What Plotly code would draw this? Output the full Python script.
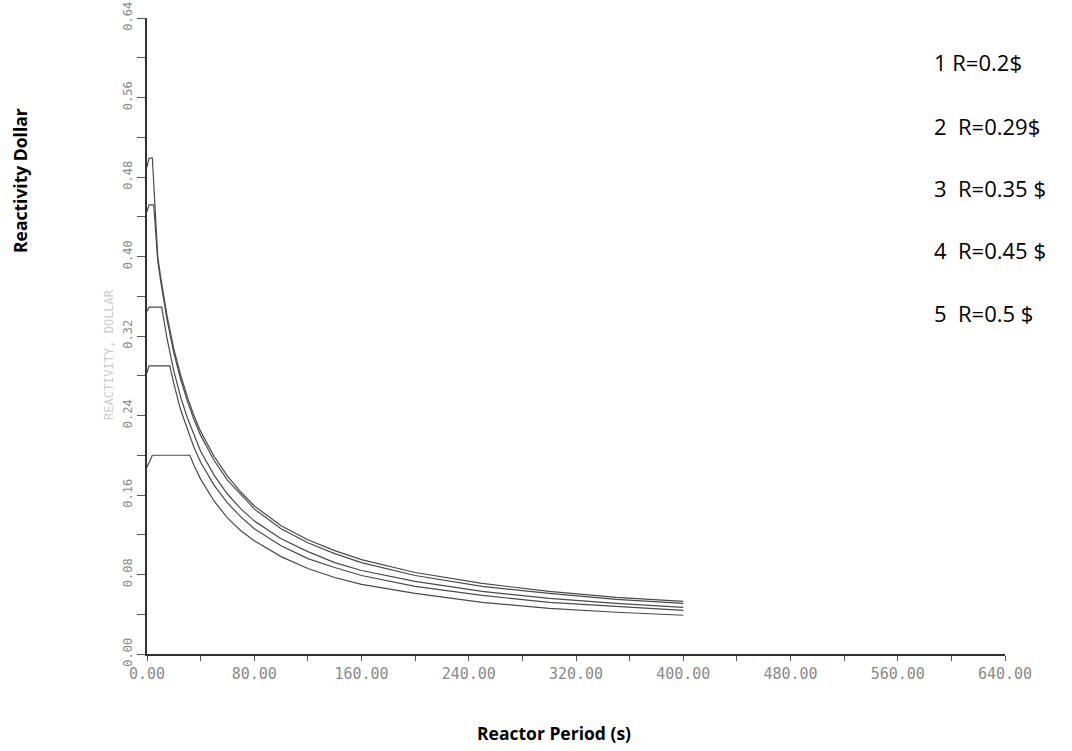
import plotly.graph_objects as go

# ---- data ----
labels = ["1 R=0.2$", "2  R=0.29$", "3  R=0.35 $", "4  R=0.45 $", "5  R=0.5 $"]

t1 = [0, 4, 32, 35, 40, 50, 60, 70, 80, 100, 120, 140, 160, 200, 250, 300, 350, 400]
r1 = [0.188, 0.200, 0.200, 0.190, 0.176, 0.154, 0.137, 0.124, 0.114, 0.098, 0.086, 0.077, 0.070, 0.061, 0.052, 0.046, 0.042, 0.039]

t2 = [0, 1.5, 17, 20, 25, 30, 35, 40, 50, 60, 70, 80, 100, 120, 140, 160, 200, 250, 300, 350, 400]
r2 = [0.283, 0.290, 0.290, 0.272, 0.246, 0.226, 0.208, 0.193, 0.170, 0.152, 0.138, 0.126, 0.109, 0.096, 0.087, 0.079, 0.068, 0.059, 0.052, 0.048, 0.044]

t3 = [0, 1.5, 11, 12, 15, 20, 25, 30, 35, 40, 50, 60, 70, 80, 100, 120, 140, 160, 200, 250, 300, 350, 400]
r3 = [0.345, 0.349, 0.349, 0.340, 0.317, 0.285, 0.259, 0.238, 0.220, 0.204, 0.180, 0.161, 0.146, 0.134, 0.116, 0.103, 0.092, 0.084, 0.073, 0.063, 0.056, 0.051, 0.047]

t4 = [0, 1.5, 5, 8, 10, 12, 15, 20, 25, 30, 35, 40, 50, 60, 70, 80, 100, 120, 140, 160, 200, 250, 300, 350, 400]
r4 = [0.445, 0.452, 0.452, 0.396, 0.377, 0.359, 0.336, 0.303, 0.277, 0.255, 0.236, 0.220, 0.195, 0.175, 0.160, 0.146, 0.126, 0.112, 0.101, 0.092, 0.079, 0.068, 0.061, 0.055, 0.051]

t5 = [0, 1.5, 4, 4.5, 6, 8, 10, 12, 15, 20, 25, 30, 35, 40, 50, 60, 70, 80, 100, 120, 140, 160, 200, 250, 300, 350, 400]
r5 = [0.490, 0.499, 0.499, 0.487, 0.452, 0.400, 0.381, 0.363, 0.340, 0.307, 0.281, 0.259, 0.240, 0.224, 0.199, 0.179, 0.163, 0.149, 0.129, 0.115, 0.104, 0.095, 0.082, 0.071, 0.063, 0.057, 0.053]

x_ticks = [0, 80, 160, 240, 320, 400, 480, 560, 640]
x_ticktext = ["0.00", "80.00", "160.00", "240.00", "320.00", "400.00", "480.00", "560.00", "640.00"]
y_ticks = [0.00, 0.08, 0.16, 0.24, 0.32, 0.40, 0.48, 0.56, 0.64]
y_ticktext = ["0.00", "0.08", "0.16", "0.24", "0.32", "0.40", "0.48", "0.56", "0.64"]

# ---- layout geometry (pixels) ----
W, H = 1072, 751
L, R, T, B = 147, 67, 18, 97
PW, PH = W - L - R, H - T - B


def px(xp):
    return (xp - L) / PW


def py(yp):
    return 1 - (yp - T) / PH


fig = go.Figure()
series = [(t1, r1), (t2, r2), (t3, r3), (t4, r4), (t5, r5)]
for (tx, ry), name in zip(series, labels):
    fig.add_trace(go.Scatter(x=tx, y=ry, mode="lines", name=name,
                             line=dict(color="#4a4a4a", width=1.2),
                             showlegend=False, hoverinfo="skip"))

fig.update_xaxes(range=[0, 640], tickvals=x_ticks, ticktext=x_ticktext,
                 showgrid=False, zeroline=False, showline=True,
                 linecolor="#333333", linewidth=2,
                 ticks="outside", ticklen=5, tickcolor="#555555", tickwidth=1,
                 minor=dict(dtick=40, tick0=0, ticks="outside", ticklen=5,
                            tickcolor="#555555", showgrid=False),
                 tickfont=dict(family="DejaVu Sans Mono", size=15, color="#8a8a8a"))
fig.update_yaxes(range=[0, 0.64], tickvals=y_ticks, ticktext=y_ticktext,
                 showgrid=False, zeroline=False, showline=True,
                 linecolor="#333333", linewidth=2,
                 ticks="outside", ticklen=8, tickcolor="#555555", tickwidth=1,
                 minor=dict(dtick=0.04, tick0=0, ticks="outside", ticklen=8,
                            tickcolor="#555555", showgrid=False),
                 tickangle=-90,
                 tickfont=dict(family="DejaVu Sans Mono", size=12, color="#8a8a8a"))

ann = []
# axis titles
ann.append(dict(text="<b>Reactivity Dollar</b>", x=px(20), y=py(180), xref="paper", yref="paper",
                textangle=-90, showarrow=False, font=dict(family="Open Sans", size=17.5, color="#000000"),
                xanchor="center", yanchor="middle"))
ann.append(dict(text="<b>Reactor Period (s)</b>", x=px(554), y=py(733), xref="paper", yref="paper",
                showarrow=False, font=dict(family="Open Sans", size=17.5, color="#000000"),
                xanchor="center", yanchor="middle"))
# faint scanned axis title
ann.append(dict(text="REACTIVITY, DOLLAR", x=px(109), y=py(355), xref="paper", yref="paper",
                textangle=-90, showarrow=False, font=dict(family="DejaVu Sans Mono", size=12, color="#cccccc"),
                xanchor="center", yanchor="middle"))
# curve labels
label_y = [62, 126, 188, 250, 313]
for txt, yy in zip(labels, label_y):
    ann.append(dict(text=txt, x=px(932), y=py(yy), xref="paper", yref="paper",
                    showarrow=False, font=dict(family="Open Sans", size=22, color="#000000"),
                    xanchor="left", yanchor="middle"))

fig.update_layout(width=W, height=H, margin=dict(l=L, r=R, t=T, b=B, autoexpand=False),
                  paper_bgcolor="white", plot_bgcolor="white",
                  annotations=ann, showlegend=False)

fig.write_html("out.html")
